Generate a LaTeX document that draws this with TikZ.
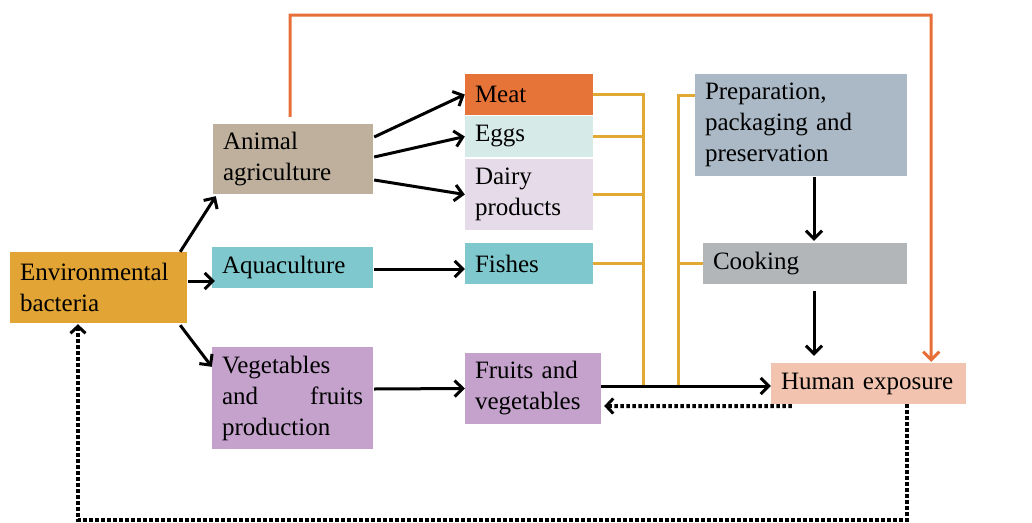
\documentclass[tikz,border=0pt]{standalone}
\usepackage{fontspec}
\setmainfont{Liberation Serif}
\usetikzlibrary{arrows.meta,calc}
\definecolor{cenv}{RGB}{226,164,52}
\definecolor{canimal}{RGB}{190,176,156}
\definecolor{caqua}{RGB}{127,200,205}
\definecolor{cveg}{RGB}{196,162,204}
\definecolor{cmeat}{RGB}{230,115,55}
\definecolor{ceggs}{RGB}{214,234,231}
\definecolor{cdairy}{RGB}{229,219,233}
\definecolor{cprep}{RGB}{171,185,198}
\definecolor{ccook}{RGB}{179,182,185}
\definecolor{chuman}{RGB}{242,196,176}
\definecolor{corange}{RGB}{232,110,55}
\definecolor{cgold}{RGB}{226,168,52}
\tikzset{
  box/.style={rectangle, inner xsep=10pt, inner ysep=0pt, align=left,
    font=\fontsize{25}{31}\selectfont},
  arr/.style={line width=3pt, -{Straight Barb[length=8pt,width=16pt,line width=3pt]}},
  dotarr/.style={line width=4pt, dash pattern=on 3.5pt off 2.5pt, -{Straight Barb[length=7pt,width=15pt,line width=3pt]}},
  orangearr/.style={line width=3pt, draw=corange, -{Straight Barb[length=8pt,width=16pt,line width=3pt]}},
  goldline/.style={line width=3pt, draw=cgold}
}
\begin{document}
\begin{tikzpicture}[x=1pt,y=-1pt]
\useasboundingbox (0,0) rectangle (1032,522);
% nodes
\node[box, fill=cenv, minimum height=71pt, text width=157pt] (env) at (98.5,287.5) {Environmental\\bacteria};
\node[box, fill=canimal, minimum height=70pt, text width=140pt] (animal) at (293,159) {Animal\\agriculture};
\node[box, fill=caqua, minimum height=41pt, text width=141pt] (aqua) at (292.5,267.5) {Aquaculture};
\node[box, fill=cveg, minimum height=102pt, text width=141pt] (veg) at (292.5,398) {Vegetables\\and\hfill fruits\hspace*{2pt}\\production};
\node[box, fill=cmeat, minimum height=41pt, text width=108pt] (meat) at (529,94.5) {Meat};
\node[box, fill=ceggs, minimum height=41pt, text width=108pt] (eggs) at (529,136.5) {Eggs};
\node[box, fill=cdairy, minimum height=71pt, text width=108pt] (dairy) at (529,194.5) {Dairy\\products};
\node[box, fill=caqua, minimum height=41pt, text width=108pt] (fishes) at (529,263.5) {Fishes};
\node[box, fill=cveg, minimum height=71pt, text width=116pt] (fruits) at (533,388.5) {Fruits and\\vegetables};
\node[box, fill=cprep, minimum height=102pt, text width=192pt] (prep) at (801,125) {Preparation,\\packaging and\\preservation};
\node[box, fill=ccook, minimum height=41pt, text width=184pt] (cook) at (805,263.5) {Cooking};
\node[box, fill=chuman, minimum height=41pt, text width=175pt] (human) at (868.5,383.5) {Human exposure};
% coordinates
\coordinate (topr) at (931,15);
\coordinate (b1) at (643,385);
\coordinate (b2) at (678,385);
\coordinate (bl) at (78,520);
% gold buses
\draw[goldline] (meat.east) -| (b1);
\draw[goldline] (eggs.east) -- (eggs.east -| b1);
\draw[goldline] (dairy.east) -- (dairy.east -| b1);
\draw[goldline] (fishes.east) -- (fishes.east -| b1);
\draw[goldline] ($(prep.west)+(0,-30)$) -| (b2);
\draw[goldline] (cook.west) -- (cook.west -| b2);
% black arrows
\draw[arr] ($(env.north east)+(-7,0)$) -- ($(animal.south west)+(3,2)$);
\draw[arr] ($(env.east)+(1,-6.5)$) -- ($(aqua.west)+(3,13.5)$);
\draw[arr] ($(env.south east)+(-7,2)$) -- ($(veg.north west)+(0,20)$);
\draw[arr] ($(animal.east)+(1,-22)$) -- (meat.west);
\draw[arr] ($(animal.east)+(1,-2)$) -- (eggs.west);
\draw[arr] ($(animal.east)+(1,21)$) -- (dairy.west);
\draw[arr] ($(aqua.east)+(1,1.5)$) -- ($(fishes.west)+(0,5.5)$);
\draw[arr] ($(veg.east)+(1,-9)$) -- (fruits.west);
\draw[arr] ($(prep.south)+(13,1)$) -- ($(cook.north)+(9,-2)$);
\draw[arr] ($(cook.south)+(9,7)$) -- ($(human.north)+(-54.5,-7)$);
\draw[arr] ($(fruits.east)+(0,-2.5)$) -- ($(human.west)+(0,2.5)$);
% dotted returns
\draw[dotarr] ($(human.south west)+(21,2)$) -- ($(fruits.east)+(3,17.5)$);
\draw[dotarr] ($(human.south)+(38.5,0)$) |- (bl) -- ($(env.south)+(-20.5,1)$);
% orange loop
\draw[orangearr] ($(animal.north)+(-3,-7)$) |- (topr) -- ($(human.north east)+(-35,-1)$);
\end{tikzpicture}
\end{document}
